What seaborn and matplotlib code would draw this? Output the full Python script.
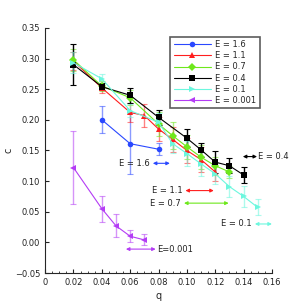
import numpy as np
import pandas as pd
import matplotlib
matplotlib.use('Agg')
import matplotlib.pyplot as plt
import seaborn as sns
from matplotlib.ticker import MultipleLocator, FuncFormatter

# data
q_16 = [0.04, 0.06, 0.08]
c_16 = [0.200, 0.161, 0.152]
e_16 = [0.022, 0.050, 0.010]

q_11 = [0.02, 0.04, 0.06, 0.07, 0.08, 0.09, 0.10, 0.11, 0.12]
c_11 = [0.296, 0.252, 0.212, 0.207, 0.185, 0.168, 0.150, 0.135, 0.115]
e_11 = [0.015, 0.008, 0.015, 0.018, 0.020, 0.020, 0.020, 0.020, 0.015]

q_07 = [0.02, 0.04, 0.06, 0.08, 0.09, 0.10, 0.11, 0.12, 0.13]
c_07 = [0.298, 0.255, 0.236, 0.193, 0.174, 0.156, 0.139, 0.125, 0.115]
e_07 = [0.018, 0.008, 0.012, 0.020, 0.022, 0.020, 0.020, 0.015, 0.010]

q_04 = [0.02, 0.04, 0.06, 0.08, 0.10, 0.11, 0.12, 0.13, 0.14]
c_04 = [0.290, 0.254, 0.240, 0.204, 0.170, 0.151, 0.131, 0.125, 0.110]
e_04 = [0.033, 0.006, 0.012, 0.012, 0.015, 0.011, 0.018, 0.012, 0.013]

q_01 = [0.02, 0.04, 0.06, 0.08, 0.09, 0.10, 0.11, 0.12, 0.13, 0.14, 0.15]
c_01 = [0.293, 0.267, 0.215, 0.196, 0.161, 0.145, 0.128, 0.112, 0.091, 0.075, 0.057]
e_01 = [0.017, 0.008, 0.010, 0.015, 0.015, 0.020, 0.020, 0.017, 0.017, 0.017, 0.013]

q_0001 = [0.02, 0.04, 0.05, 0.06, 0.07]
c_0001 = [0.122, 0.055, 0.027, 0.010, 0.004]
e_0001 = [0.060, 0.021, 0.019, 0.010, 0.009]

labels = ['E = 1.6', 'E = 1.1', 'E = 0.7', 'E = 0.4', 'E = 0.1', 'E = 0.001']
colors = ['#2a48ff', '#ff1e1e', '#6ee81c', '#000000', '#6cf7de', '#b43cf5']
markers = ['o', '^', 'D', 's', '>', '<']

# range arrows: label, colour, q start, q end, c level
arr_lab = ['E = 1.6', 'E = 0.4', 'E = 1.1', 'E = 0.7', 'E = 0.1', 'E=0.001']
arr_col = ['#2a48ff', '#000000', '#ff1e1e', '#6ee81c', '#6cf7de', '#b43cf5']
arr_q0 = [0.076, 0.1395, 0.099, 0.098, 0.148, 0.057]
arr_q1 = [0.088, 0.1495, 0.119, 0.1295, 0.160, 0.078]
arr_c = [0.129, 0.140, 0.0845, 0.064, 0.030, -0.011]

series = [(q_16, c_16, e_16), (q_11, c_11, e_11), (q_07, c_07, e_07),
          (q_04, c_04, e_04), (q_01, c_01, e_01), (q_0001, c_0001, e_0001)]

rows = []
for lab, (qs, cs, es) in zip(labels, series):
    for q, c, e in zip(qs, cs, es):
        rows.append({'q': q, 'c': c, 'err': e, 'E': lab})
df = pd.DataFrame(rows)

sns.set_style('ticks')
fig = plt.figure(figsize=(2.93, 3.03), dpi=100)
ax = fig.add_axes([0.154, 0.099, 0.774, 0.809])

# error bars first (lighter)
for lab, col in zip(labels, colors):
    d = df[df['E'] == lab]
    ax.errorbar(d['q'], d['c'], yerr=d['err'], fmt='none', ecolor=col,
                alpha=0.55 if col != '#000000' else 1.0, elinewidth=1.0,
                capsize=2, capthick=0.8, zorder=2)

sns.lineplot(data=df, x='q', y='c', hue='E', style='E', hue_order=labels,
             style_order=labels, palette=dict(zip(labels, colors)),
             markers=dict(zip(labels, markers)), dashes=False,
             markersize=4, markeredgewidth=0, linewidth=0.8, ax=ax,
             sort=False, zorder=3)

for lab, col, q0, q1, c in zip(arr_lab, arr_col, arr_q0, arr_q1, arr_c):
    ax.annotate('', xy=(q1, c), xytext=(q0, c),
                arrowprops=dict(arrowstyle='<|-|>', color=col, lw=0.8,
                                mutation_scale=5, shrinkA=0, shrinkB=0))
    if lab in ('E = 0.4', 'E=0.001'):
        ax.text(q1 + 0.001, c, lab, fontsize=6, va='center', ha='left',
                color='#222222')
    else:
        ax.text(q0 - 0.002, c, lab, fontsize=6, va='center', ha='right',
                color='#222222')

ax.set_xlim(0, 0.16)
ax.set_ylim(-0.05, 0.35)
ax.xaxis.set_major_locator(MultipleLocator(0.02))
ax.xaxis.set_minor_locator(MultipleLocator(0.005))
ax.yaxis.set_major_locator(MultipleLocator(0.05))
ax.xaxis.set_major_formatter(FuncFormatter(lambda v, p: '0' if abs(v) < 1e-9 else f'{v:.2f}'))
ax.yaxis.set_major_formatter(FuncFormatter(lambda v, p: f'{v:.2f}'.replace('-', '\u2212')))
ax.tick_params(axis='both', which='major', direction='in', length=3,
               width=0.8, labelsize=6, colors='#222222')
ax.tick_params(axis='x', which='minor', direction='in', length=1.5, width=0.6)
ax.set_xlabel('q', fontsize=7, labelpad=3)
ax.set_ylabel('c', fontsize=7, labelpad=1)
sns.despine(ax=ax)
for s in ('left', 'bottom'):
    ax.spines[s].set_linewidth(0.8)

leg = ax.legend(loc='upper right', bbox_to_anchor=(0.965, 0.98), fontsize=6,
                frameon=True, fancybox=False, handlelength=4.5,
                labelspacing=0.25, borderpad=0.4, handletextpad=0.5,
                markerscale=1.0)
leg.get_frame().set_edgecolor('#333333')
leg.get_frame().set_linewidth(1.2)

fig.savefig('out.png', dpi=100)
